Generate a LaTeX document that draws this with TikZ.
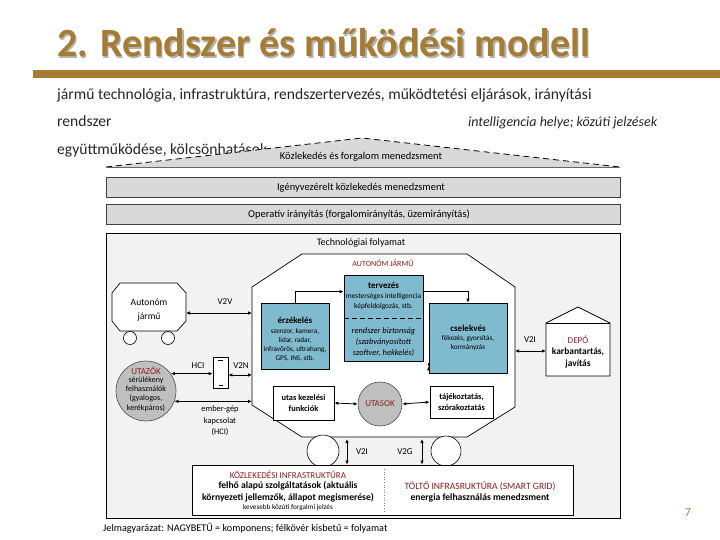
\documentclass[tikz,border=0pt]{standalone}
\usepackage{fontspec}
\setmainfont{Carlito}
\usetikzlibrary{arrows.meta,calc}
\definecolor{gold}{RGB}{166,124,52}
\definecolor{dred}{RGB}{140,30,30}
\definecolor{bblue}{RGB}{128,186,206}
\definecolor{lgray}{RGB}{217,217,217}
\definecolor{bggray}{RGB}{242,242,242}
\definecolor{cgray}{RGB}{191,191,191}
\definecolor{txt}{RGB}{38,38,38}
\newcommand{\fsz}[2]{\fontsize{#1}{#2}\selectfont}
\begin{document}
\begin{tikzpicture}[x=1pt,y=-1pt,
  lbl/.style={inner sep=0pt, align=center},
  barbox/.style={draw=black!75, fill=lgray, line width=0.8pt, inner sep=0pt},
  bluebox/.style={draw=black, fill=bblue, line width=0.7pt, inner sep=0pt},
  whitebox/.style={draw=black, fill=white, line width=0.7pt, inner sep=0pt},
  graycirc/.style={circle, draw=black!70, fill=cgray, line width=0.6pt, inner sep=0pt},
  wheel/.style={circle, draw=black, fill=white, line width=0.6pt, inner sep=0pt},
  arr/.style={-{Latex[length=4pt,width=3.5pt]}, line width=0.8pt},
  darr/.style={{Latex[length=4pt,width=3.5pt]}-{Latex[length=4pt,width=3.5pt]}, line width=0.8pt},
]
\useasboundingbox (0,0) rectangle (720,540);
\fill[white] (0,0) rectangle (720,540);
% title
\node[lbl, anchor=base west, text=black!30, font=\fsz{40}{44}\bfseries] (titleshadow) at (58.5,58.5) {2. Rendszer és működési modell};
\node[lbl, anchor=base west, text=gold, font=\fsz{40}{44}\bfseries] (title) at (57,57) {2. Rendszer és működési modell};
\fill[gold] (33,70) rectangle (720,78);
% body text
\node[lbl, anchor=base west, text=txt, font=\fsz{15.6}{18}] (l1) at (57,100) {jármű technológia, infrastruktúra, rendszertervezés, működtetési eljárások, irányítási};
\node[lbl, anchor=base west, text=txt, font=\fsz{15.6}{18}] (l2) at (57,127) {rendszer};
\node[lbl, anchor=base west, text=txt, font=\fsz{14}{16}\itshape] (l2b) at (468,127) {intelligencia helye; közúti jelzések};
\node[lbl, anchor=base west, text=txt, font=\fsz{15.6}{18}] (l3) at (57,155) {együttműködése, kölcsönhatások};
% triangle
\fill[lgray] (106,167) -- (362,138) -- (620,167) -- cycle;
\draw[dash pattern=on 6pt off 4pt, line width=0.8pt] (106,167) -- (362,138) -- (620,167);
\draw[black!60, line width=0.8pt] (106,167) -- (620,167);
\node[lbl, font=\fsz{10.5}{12}] (tri) at (361,157) {Közlekedés és forgalom menedzsment};
% bars
\node[barbox, minimum width=514pt, minimum height=20pt] (igeny) at (363,187) {};
\node[lbl, font=\fsz{10.5}{12}] (igenyt) at (361,187.5) {Igényvezérelt közlekedés menedzsment};
\node[barbox, minimum width=514pt, minimum height=20pt] (oper) at (363,214) {};
\node[lbl, font=\fsz{10.5}{12}] (opert) at (359,214.5) {Operatív irányítás (forgalomirányítás, üzemirányítás)};
% main box
\node[draw=black, fill=bggray, line width=0.8pt, minimum width=514pt, minimum height=285pt, inner sep=0pt] (main) at (363,375.5) {};
\node[lbl, font=\fsz{10}{12}] (techn) at (361,243) {Technológiai folyamat};
% autonomous vehicle octagon
\draw[fill=white, line width=0.7pt] (252,287) -- (302,254) -- (467,254) -- (515,287) -- (515,407) -- (467,437) -- (302,437) -- (252,405) -- cycle;
\node[lbl, text=dred, font=\fsz{8}{10}] (autj) at (383,263) {AUTONÓM JÁRMŰ};
% tervezes
\node[bluebox, minimum width=79pt, minimum height=86pt] (terv) at (383.5,318) {};
\draw[dash pattern=on 5pt off 3pt, line width=0.7pt] (terv.west |- 0,318) -- (terv.east |- 0,318);
\node[lbl, font=\fsz{9}{10}\bfseries] (tervt) at (383.5,285) {tervezés};
\node[lbl, font=\fsz{7.4}{10.5}] (tervt2) at (383.5,301.5) {mesterséges intelligencia\\képfeldolgozás, stb.};
\node[lbl, font=\fsz{8.4}{11}\itshape] (bizt) at (383.5,342) {rendszer biztonság\\(szabványosított\\szoftver, hekkelés)};
% erzekeles
\node[bluebox, minimum width=68pt, minimum height=66pt] (erz) at (295,336) {};
\node[lbl, font=\fsz{9}{10}\bfseries] (erzt) at (295,320) {érzékelés};
\node[lbl, font=\fsz{7.2}{9}] (erzt2) at (295,344.5) {szenzor, kamera,\\lidar, radar,\\infravörös, ultrahang,\\GPS, INS, stb.};
% cselekves
\node[bluebox, minimum width=78pt, minimum height=70pt] (csel) at (468,338) {};
\node[lbl, font=\fsz{9}{10}\bfseries] (cselt) at (468,328) {cselekvés};
\node[lbl, font=\fsz{7.2}{9}] (cselt2) at (468,343.5) {fékezés, gyorsítás,\\kormányzás};
% internal arrows
\draw[arr] (erz.north) |- ($(terv.north west)+(0,17)$);
\draw[arr] ($(terv.north east)+(0,17)$) -| (csel.north);
\draw[arr] ($(csel.south west)+(0,-7)$) -- ($(csel.south west)+(0,-7)$ -| erz.east);
% lower row
\node[whitebox, minimum width=61pt, minimum height=34pt] (utas) at (303.5,403) {};
\node[lbl, font=\fsz{8.4}{11}\bfseries] (utast) at (303.5,403) {utas kezelési\\funkciók};
\node[graycirc, minimum size=44pt] (utasok) at (380,404) {};
\node[lbl, text=dred, font=\fsz{9}{10}] (utasokt) at (380,404) {UTASOK};
\node[whitebox, minimum width=63pt, minimum height=32pt] (tajek) at (461.5,402) {};
\node[lbl, font=\fsz{8.4}{11}\bfseries] (tajekt) at (461.5,402) {tájékoztatás,\\szórakoztatás};
\draw[darr] (utas.east) -- (utasok.west);
\draw[darr] (utasok.east) -- (tajek.west);
% left side: other vehicle
\draw[fill=white, line width=0.7pt] (112,293) -- (120,283) -- (177,283) -- (186,293) -- (186,321) -- (177,331) -- (120,331) -- (112,321) -- cycle;
\node[lbl, font=\fsz{9.6}{14}] (autonom) at (149,310) {Autonóm\\jármű};
\node[wheel, minimum size=13pt] (w1) at (130,338) {};
\node[wheel, minimum size=13pt] (w2) at (168,338) {};
\coordinate (avR) at (186,313);
\coordinate (octL1) at (252,313);
\draw[darr] (avR) -- (octL1);
\node[lbl, font=\fsz{9}{10}] (v2v) at (225,302) {V2V};
% utazok
\node[graycirc, minimum size=60pt] (utazok) at (146,391) {};
\node[lbl, text=dred, font=\fsz{9}{10}] (utazokt) at (146,370.5) {UTAZÓK};
\node[lbl, font=\fsz{8}{9.3}] (utazokt2) at (146,394) {sérülékeny\\felhasználók\\(gyalogos,\\kerékpáros)};
% phone
\node[draw=black, fill=white, line width=0.7pt, minimum width=15pt, minimum height=31pt, inner sep=0pt] (phone) at (220.5,372.5) {};
\draw[line width=0.5pt] (218,360) -- (223,360);
\draw[line width=0.5pt] (218.5,385) -- (222.5,385);
\draw[darr] (utazok.35) -- (utazok.35 -| phone.west);
\coordinate (octL2) at (252,375);
\draw[darr] (phone.east |- octL2) -- (octL2);
\node[lbl, font=\fsz{9}{10}] (hci) at (198,366) {HCI};
\node[lbl, font=\fsz{9}{10}] (v2n) at (241,366) {V2N};
\coordinate (octL3) at (252,401);
\draw[darr] (utazok.-20) -- (utazok.-20 -| octL3);
\node[lbl, font=\fsz{8.4}{11.5}] (hmi) at (220,421) {ember-gép\\kapcsolat\\(HCI)};
% depot
\draw[fill=white, line width=0.7pt] (546,376) -- (546,323) -- (578,307) -- (610,323) -- (610,376) -- cycle;
\draw[line width=0.7pt] (546,323) -- (610,323);
\node[lbl, text=dred, font=\fsz{9}{10}] (depo) at (578,340) {DEPÓ};
\node[lbl, font=\fsz{9.4}{12}\bfseries] (depot2) at (578,358) {karbantartás,\\javítás};
\coordinate (octR) at (515,351);
\coordinate (depoL) at (546,351);
\draw[darr] (octR) -- (depoL);
\node[lbl, font=\fsz{9}{10}] (v2i1) at (530,340) {V2I};
% bottom wheels
\node[wheel, minimum size=32pt] (bw1) at (323,451) {};
\node[wheel, minimum size=30pt] (bw2) at (446,451) {};
% infrastructure box
\node[whitebox, minimum width=381pt, minimum height=50pt] (infra) at (382.5,490) {};
\draw[dotted, line width=0.6pt, black!50] (384,469) -- (384,512);
\node[lbl, text=dred, font=\fsz{9}{10}] (kozl) at (288,475) {KÖZLEKEDÉSI INFRASTRUKTÚRA};
\node[lbl, font=\fsz{9.6}{11.5}\bfseries] (felho) at (288,491.5) {felhő alapú szolgáltatások (aktuális\\környezeti jellemzők, állapot megismerése)};
\node[lbl, font=\fsz{7.2}{8}] (keves) at (288,508) {kevesebb közúti forgalmi jelzés};
\node[lbl, text=dred, font=\fsz{9.6}{10}] (tolto) at (480,486) {TÖLTŐ INFRASRUKTÚRA (SMART GRID)};
\node[lbl, font=\fsz{9.6}{10}\bfseries] (energ) at (480,497.5) {energia felhasználás menedzsment};
\coordinate (octB1) at (347,437);
\coordinate (octB2) at (422,437);
\draw[darr] ($(octB1)+(0,2)$) -- (octB1 |- infra.north);
\draw[darr] ($(octB2)+(0,2)$) -- (octB2 |- infra.north);
\node[lbl, font=\fsz{9}{10}] (v2i2) at (362,452) {V2I};
\node[lbl, font=\fsz{9}{10}] (v2g) at (405,452) {V2G};
% legend
\node[lbl, anchor=base west, font=\fsz{10.2}{12}] (legend) at (103,531) {Jelmagyarázat: NAGYBETŰ = komponens; félkövér kisbetű = folyamat};
\node[lbl, text=gold, font=\fsz{12}{14}] (page) at (688,513) {7};
\end{tikzpicture}
\end{document}
